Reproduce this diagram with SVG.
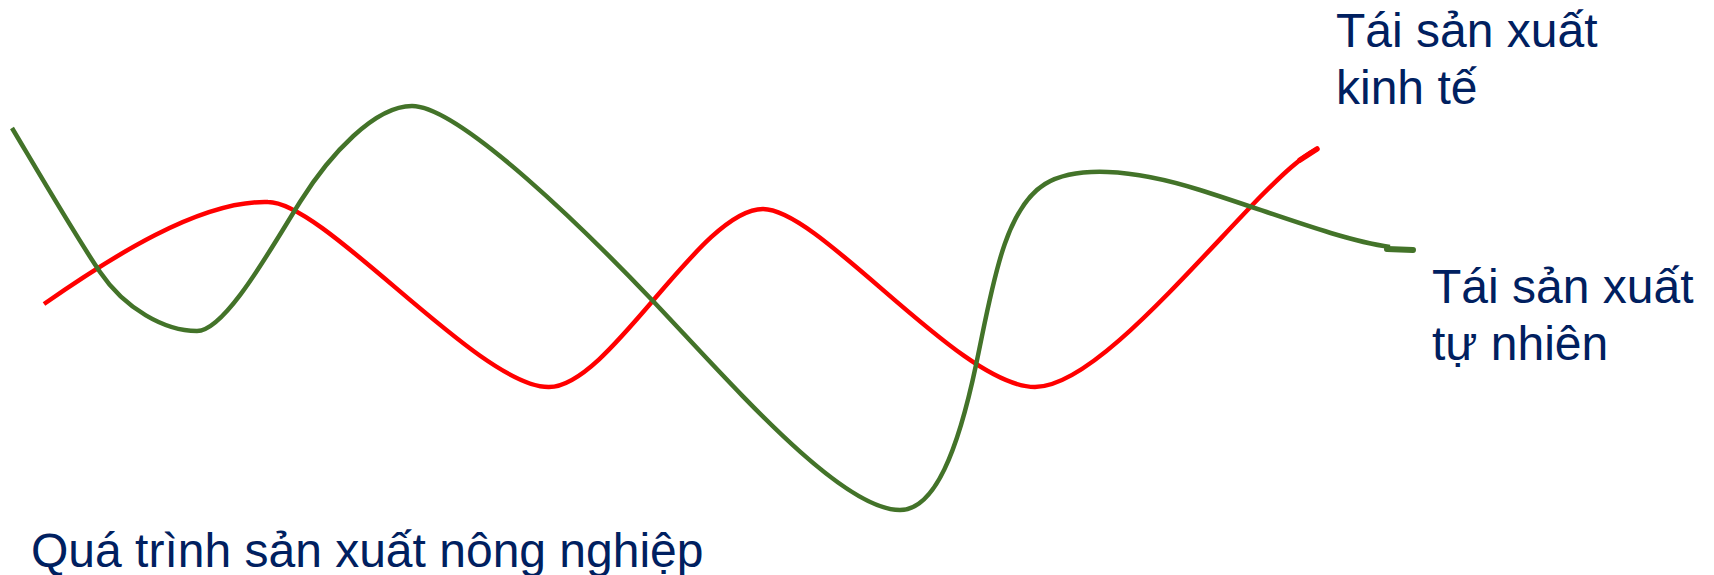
<svg xmlns="http://www.w3.org/2000/svg" width="1714" height="575" viewBox="0 0 1714 575">
<style>
.lbl{font-family:"Liberation Sans",Arial,sans-serif;font-size:48px;fill:#002060}
.red{fill:none;stroke:#FF0000;stroke-width:4.5}
.green{fill:none;stroke:#437329;stroke-width:4.5}
</style>
<rect width="1714" height="575" fill="#FFFFFF"/>
<g id="connectors">
<path id="red-curve" class="red" d="M44,304 C110,258 200,200 268,202 C325,202 480,388 549,387 C610,387 700,209 763,209 C820,209 960,387 1035,387 C1090,387 1180,280 1260,197 C1285,172 1300,158 1317,149"/>
<path d="M1300,160 L1317,149" stroke="#FF0000" stroke-width="5.5" stroke-linecap="round" fill="none"/>
<path id="green-curve" class="green" d="M12,128 C40,175 75,235 100,272 C125,309 165,331 197,331 C225,331 270,250 300,202 C330,154 375,106 412,106 C460,106 590,235 652,300 C730,382 840,510 900,510 C935,510 958,450 976,365 C992,290 1003,210 1045,184 C1075,166 1130,168 1200,190 C1270,212 1340,240 1390,247"/>
<path d="M1387,249 L1413,250" stroke="#437329" stroke-width="6" stroke-linecap="round" fill="none"/>
</g>
<g id="label-economic">
<text class="lbl" x="1336" y="47">Tái sản xuất</text>
<text class="lbl" x="1336" y="104">kinh tế</text>
</g>
<g id="label-natural">
<text class="lbl" x="1432" y="303">Tái sản xuất</text>
<text class="lbl" x="1432" y="360">tự nhiên</text>
</g>
<g id="label-agri">
<text class="lbl" x="31" y="567">Quá trình sản xuất nông nghiệp</text>
</g>
</svg>
